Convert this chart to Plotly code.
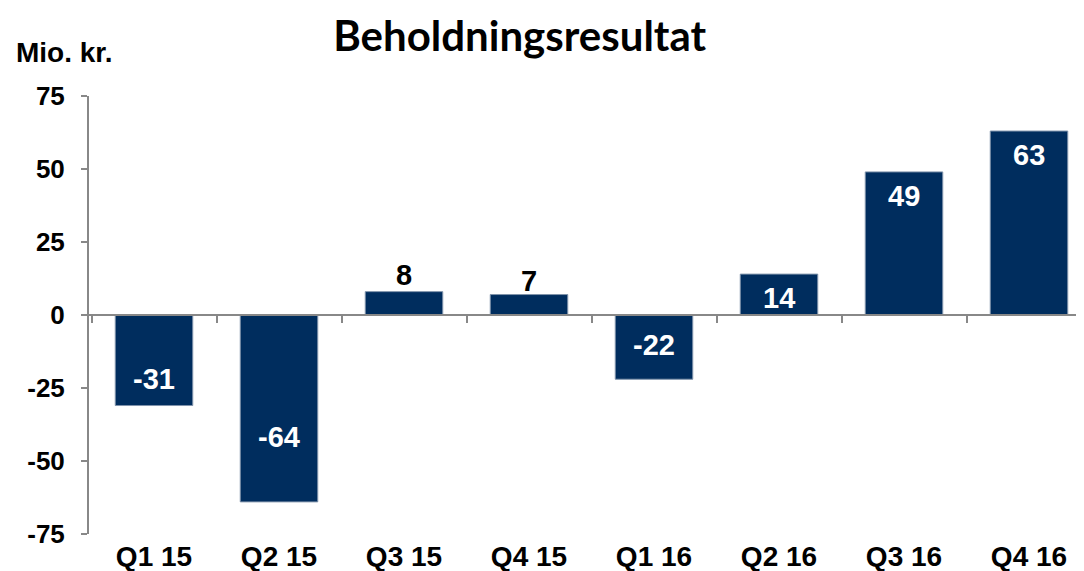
import plotly.graph_objects as go

categories = ["Q1 15", "Q2 15", "Q3 15", "Q4 15", "Q1 16", "Q2 16", "Q3 16", "Q4 16"]
values = [-31, -64, 8, 7, -22, 14, 49, 63]
y_ticks = [-75, -50, -25, 0, 25, 50, 75]

# label styling (pixel shifts of the value labels from the bar end)
label_shift = [27, 65, 17, 14, 34, -24, -24, -24]
label_color = ["white", "white", "black", "black", "white", "white", "white", "white"]

BAR = "#002D5E"
GRAY = "#888888"
FONT = "Liberation Sans, Arial, sans-serif"

fig = go.Figure()
fig.add_trace(go.Bar(x=categories, y=values, marker=dict(color=BAR, line=dict(width=1, color="#7f93ab")),
                     width=0.62, hoverinfo="skip", showlegend=False))
# invisible trace carrying the zero axis (ticks between categories)
fig.add_trace(go.Bar(x=categories, y=values, xaxis="x2", marker=dict(opacity=0), width=0.62,
                     hoverinfo="skip", showlegend=False))

for c, v, s, col in zip(categories, values, label_shift, label_color):
    fig.add_annotation(x=c, y=v, yshift=s, text=str(v), showarrow=False, yanchor="middle",
                       font=dict(family=FONT, size=29, color=col, weight="bold"))

fig.add_annotation(xref="paper", yref="paper", x=-0.0748, y=1.1, xanchor="left", yanchor="middle",
                   text="Mio. kr.", showarrow=False,
                   font=dict(family=FONT, size=28, color="black", weight="bold"))

xr = [-0.52, 7.504]
fig.update_layout(
    width=1084, height=571,
    margin=dict(l=81, r=0, t=88, b=45),
    plot_bgcolor="white", paper_bgcolor="white",
    title=dict(text="Beholdningsresultat", x=0.472, xanchor="center", y=0.95, yanchor="middle",
               font=dict(family="Lato, Open Sans, sans-serif", size=42, color="black", weight="bold")),
    xaxis=dict(type="category", categoryarray=categories, range=xr, showline=False, ticks="",
               showgrid=False, zeroline=False, ticklabelstandoff=3,
               tickfont=dict(family=FONT, size=28, color="black", weight="bold")),
    xaxis2=dict(type="category", categoryarray=categories, range=xr, overlaying="x", anchor="free",
                position=0.5, showline=True, linecolor=GRAY, linewidth=2, ticks="outside",
                tickson="boundaries", ticklen=7, tickcolor=GRAY, tickwidth=2,
                showticklabels=False, showgrid=False, zeroline=False),
    yaxis=dict(range=[-75, 75], tickvals=y_ticks, ticktext=[str(t) for t in y_ticks],
               showline=True, linecolor=GRAY, linewidth=2,
               ticks="outside", ticklen=6, tickcolor=GRAY, tickwidth=2, showgrid=False, zeroline=False,
               ticklabelstandoff=11,
               tickfont=dict(family=FONT, size=26, color="black", weight="bold")),
    bargap=0.38,
)

fig.write_html("out.html")
